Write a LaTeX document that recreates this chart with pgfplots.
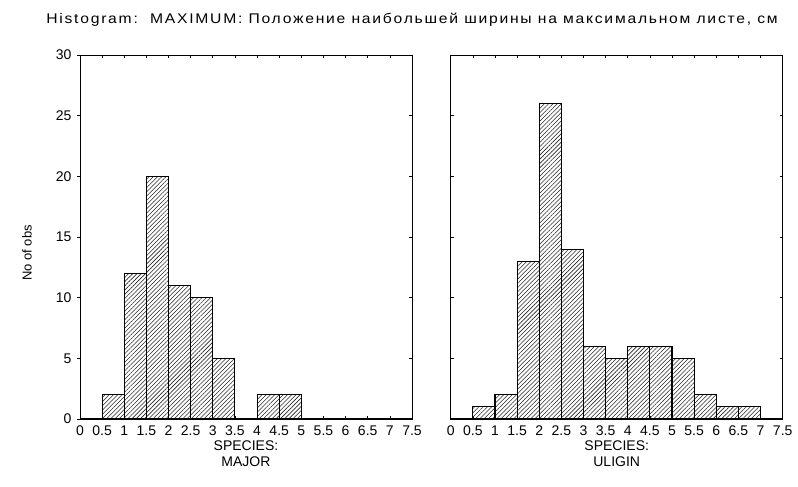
\documentclass[border=0pt]{standalone}
\usepackage{fontspec}
\setmainfont{Liberation Sans}
\newfontfamily\titlefont{Liberation Sans}[FakeStretch=1.12, LetterSpace=12.5]
\usepackage{pgfplots}
\pgfplotsset{compat=1.18}
\usepackage{pgfplotstable}
\usetikzlibrary{patterns.meta}

% bin centres (width 0.5) and counts
\pgfplotstableread{
x c
0.75 2
1.25 12
1.75 20
2.25 11
2.75 10
3.25 5
4.25 2
4.75 2
}\major
\pgfplotstableread{
x c
0.75 1
1.25 2
1.75 13
2.25 26
2.75 14
3.25 6
3.75 5
4.25 6
4.75 6
5.25 5
5.75 2
6.25 1
6.75 1
}\uligin

\newcommand{\chartfont}{\fontsize{14pt}{16pt}\selectfont}

\pgfplotsset{
  frame/.style={
    scale only axis,
    width=332pt, height=364pt,
    anchor=south west,
    xmin=0, xmax=7.5, ymin=0, ymax=30,
    ytick={0,5,...,30},
    major tick length=3pt,
    tick style={black, line width=0.6pt},
    axis line style={line width=0.8pt},
    /pgf/number format/assume math mode=true,
    tick label style={font=\chartfont},
    yticklabel style={xshift=-2pt},
    label style={font=\chartfont},
  },
  hist/.style={
    frame,
    xtick={0,0.5,...,7.5},
    xticklabels={0,0.5,1,1.5,2,2.5,3,3.5,4,4.5,5,5.5,6,6.5,7,7.5},
    tick align=inside,
    xticklabel style={yshift=-3pt},
    xlabel style={align=center, yshift=2pt},
    clip=false,
  },
  histbar/.style={
    ybar, bar width=0.5, bar shift=0pt,
    draw=black, line width=1.1pt,
    pattern={Lines[angle=45,distance=3pt,line width=0.55pt]},
    pattern color=black!85,
  },
}

\begin{document}
\begin{tikzpicture}
\useasboundingbox (0,0) rectangle (798pt,487pt);
\node[font=\titlefont\fontsize{14pt}{16pt}\selectfont, anchor=center] at (412pt,467pt)
  {Histogram:\ \ MAXIMUM: Положение наибольшей ширины на максимальном листе, см};

% outward y ticks and labels on the left edge of the first panel
\begin{axis}[frame, at={(80pt,68pt)},
  tick align=outside, ytick pos=left,
  xtick=\empty, axis line style={draw=none},
  ylabel={No of obs},
  ylabel style={at={(rel axis cs:-0.16,0.456)}, anchor=center,
    font=\fontsize{13pt}{15pt}\selectfont},
]
\end{axis}

\begin{axis}[hist, at={(80pt,68pt)},
  ytick pos=right, yticklabels={},
  xlabel={SPECIES:\\MAJOR},
]
  \addplot[histbar] table[x=x, y=c] {\major};
  \draw[line width=2pt] (axis cs:0,0) -- (axis cs:7.5,0);
\end{axis}

\begin{axis}[hist, at={(450.7pt,68pt)},
  xlabel={SPECIES:\\ULIGIN},
  yticklabels={},
]
  \addplot[histbar] table[x=x, y=c] {\uligin};
  \draw[line width=2pt] (axis cs:0,0) -- (axis cs:7.5,0);
\end{axis}
\end{tikzpicture}
\end{document}
